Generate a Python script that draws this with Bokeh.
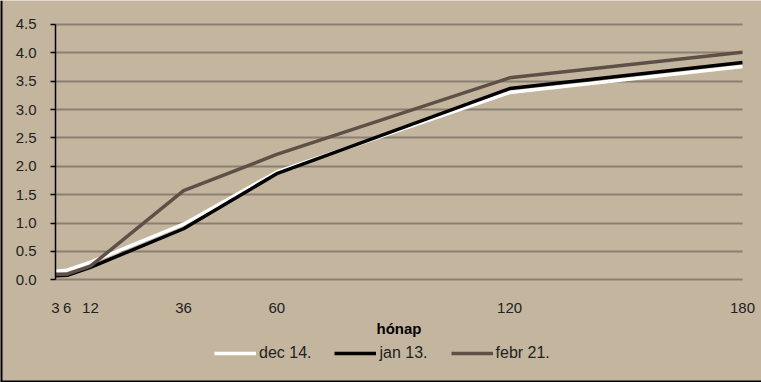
from bokeh.plotting import figure
from bokeh.models import ColumnDataSource, Legend, LegendItem, FixedTicker, CustomJSTickFormatter, Range1d, Span
from bokeh.embed import file_html
from bokeh.resources import INLINE

months = [3, 6, 12, 36, 60, 120, 180]
dec14 = [0.15, 0.17, 0.31, 0.98, 1.90, 3.30, 3.76]
jan13 = [0.07, 0.08, 0.22, 0.90, 1.87, 3.37, 3.83]
febr21 = [0.10, 0.10, 0.24, 1.57, 2.21, 3.56, 4.01]
series_names = ["dec 14.", "jan 13.", "febr 21."]
y_ticks = [0.0, 0.5, 1.0, 1.5, 2.0, 2.5, 3.0, 3.5, 4.0, 4.5]
x_ticks = [3, 6, 12, 36, 60, 120, 180]

BG = "#C4B69E"
FONT = "Liberation Sans"

src = ColumnDataSource(dict(x=months, d=dec14, j=jan13, f=febr21))

# the frame covers the whole canvas; axes are pinned at x=3 and y=0
X0, X1 = -11.17, 184.9
Y0, Y1 = -1.81, 4.923
p = figure(width=761, height=382, output_backend="svg", toolbar_location=None,
           x_range=Range1d(X0, X1), y_range=Range1d(Y0, Y1),
           min_border_left=0, min_border_right=0, min_border_top=0, min_border_bottom=0)
p.background_fill_color = BG
p.border_fill_color = BG
p.outline_line_color = None

p.xgrid.grid_line_color = None
p.ygrid.grid_line_color = "#8A8072"
p.ygrid.grid_line_width = 2
p.ygrid.ticker = FixedTicker(ticks=y_ticks)
if "cross_bounds" in p.ygrid.properties():
    p.ygrid.cross_bounds = (3, 180)

r_d = p.line("x", "d", source=src, line_color="white", line_width=3.5)
r_j = p.line("x", "j", source=src, line_color="black", line_width=3.5)
r_f = p.line("x", "f", source=src, line_color="#5E5046", line_width=3.5)

p.yaxis.fixed_location = 3
p.yaxis.ticker = FixedTicker(ticks=y_ticks)
p.yaxis.bounds = (0, 4.5)
p.yaxis.formatter = CustomJSTickFormatter(code="return tick.toFixed(1);")
p.yaxis.axis_line_color = "black"
p.yaxis.axis_line_width = 1.5
p.yaxis.major_tick_line_color = "black"
p.yaxis.major_tick_line_width = 1.5
p.yaxis.major_tick_out = 5
p.yaxis.major_tick_in = 0
p.yaxis.minor_tick_line_color = None
p.yaxis.major_label_standoff = 14
p.yaxis.major_label_text_font = FONT
p.yaxis.major_label_text_font_size = "15px"
p.yaxis.major_label_text_color = "#222222"

p.xaxis.fixed_location = 0
p.xaxis.bounds = (3, 180)
p.xaxis.ticker = FixedTicker(ticks=x_ticks)
p.xaxis.axis_line_color = None
p.xaxis.major_tick_line_color = None
p.xaxis.minor_tick_line_color = None
p.xaxis.major_label_standoff = 17
p.xaxis.major_label_text_font = FONT
p.xaxis.major_label_text_font_size = "15px"
p.xaxis.major_label_text_color = "#222222"
p.xaxis.axis_label = "hónap"
p.xaxis.axis_label_text_font = FONT
p.xaxis.axis_label_text_font_size = "15px"
p.xaxis.axis_label_text_font_style = "bold"
p.xaxis.axis_label_standoff = 4
p.xaxis.axis_label_text_color = "black"

# chart border (left and bottom edges)
p.add_layout(Span(location=X0, dimension="height", line_color="black", line_width=4))
p.add_layout(Span(location=Y0, dimension="width", line_color="black", line_width=4))

legend = Legend(items=[LegendItem(label=series_names[0], renderers=[r_d]),
                       LegendItem(label=series_names[1], renderers=[r_j]),
                       LegendItem(label=series_names[2], renderers=[r_f])],
                orientation="horizontal", location=(214, 20),
                background_fill_alpha=0, border_line_color=None,
                glyph_width=42, glyph_height=14, label_standoff=3, spacing=23,
                padding=4, margin=0,
                label_text_font=FONT, label_text_font_size="16px", label_text_color="#222222")
p.add_layout(legend, "center")

open("out.html", "w").write(file_html(p, INLINE))
